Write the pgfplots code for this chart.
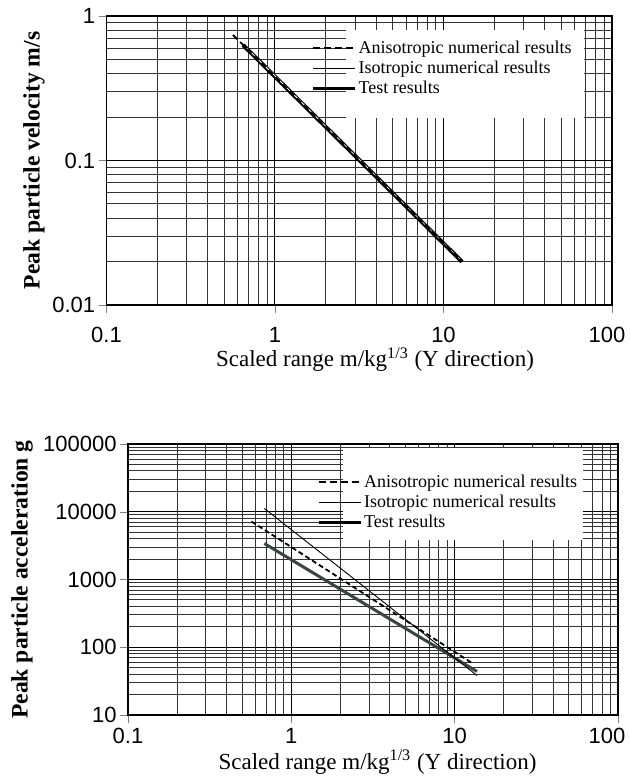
\documentclass[border=0pt]{standalone}
\usepackage{fontspec}
\setmainfont{Liberation Serif}
\newfontfamily\arial{Liberation Sans}
\usepackage{pgfplots}
\pgfplotsset{compat=1.18}
\definecolor{testgray}{RGB}{58,68,68}
\newcommand\tl[1]{\mbox{\arial\fontsize{11}{13}\selectfont #1}}
\pgfplotsset{
  legend image code/.code={\draw[#1] (0pt,0pt) -- (21pt,0pt);},
  every axis/.append style={
    scale only axis,
    xmin=0.1, xmax=100,
    xtick={0.1,1,10,100},
    minor xtick={0.2,0.3,0.4,0.5,0.6,0.7,0.8,0.9,2,3,4,5,6,7,8,9,20,30,40,50,60,70,80,90},
    grid=both,
    major grid style={black, line width=0.5pt},
    minor grid style={black!80, line width=0.5pt},
    tick align=outside, tick pos=left,
    major tick length=4pt, minor tick length=0pt,
    axis line style={line width=0.6pt},
    ticklabel style={inner sep=1pt},
    yticklabel style={xshift=-0.5pt},
    xlabel={Scaled range m/kg\textsuperscript{1/3} (Y direction)},
    label style={font=\fontsize{11.5}{13}\selectfont, inner sep=0.5pt},
    ylabel style={font=\bfseries\fontsize{11.8}{14}\selectfont, anchor=center},
    legend cell align=left,
    legend style={draw=none, fill=none, inner sep=0pt, font=\fontsize{9}{10}\selectfont,
      nodes={inner sep=1pt, text height=6.5pt, text depth=1.5pt}},
  },
}
\begin{document}
\begin{tikzpicture}
\useasboundingbox (0,0) rectangle (315pt,389pt);
% Top: peak particle velocity
\begin{loglogaxis}[
  at={(53.25pt,236.5pt)}, anchor=south west,
  width=252.75pt, height=144.5pt,
  ymin=0.01, ymax=1,
  xticklabels={\tl{0.1},\tl{1},\tl{10},\tl{100\hspace{5pt}}},
  ytick={0.01,0.1,1}, yticklabels={\tl{0.01},\tl{0.1},\tl{1}},
  minor ytick={0.02,0.03,0.04,0.05,0.06,0.07,0.08,0.09,0.2,0.3,0.4,0.5,0.6,0.7,0.8,0.9},
  xticklabel style={yshift=-6pt},
  ylabel={Peak particle velocity m/s},
  ylabel style={at={(axis description cs:-0.1434,0.5)}},
  xlabel style={at={(axis description cs:0.5312,-0.2145)}, anchor=base},
  legend style={at={(rel axis cs:0.405,0.924)}, anchor=north west},
]
\addplot[black, line width=2pt, forget plot] coordinates {(0.646,0.63) (12.9,0.0199)};
\addplot[white, line width=0.45pt, forget plot] coordinates {(0.68,0.60) (12.5,0.0207)};
\addplot[black, line width=0.45pt, forget plot] coordinates {(0.68,0.582) (12.5,0.0205)};
\addplot[black, line width=0.9pt, dash pattern=on 3pt off 2pt, forget plot] coordinates {(0.563,0.739) (12.2,0.0213)};
\fill[white] (rel axis cs:0.474,0.647) rectangle (rel axis cs:0.945,0.952);
\addlegendimage{black, line width=0.9pt, dash pattern=on 3.5pt off 2pt}
\addlegendentry{Anisotropic numerical results}
\addlegendimage{black, line width=0.45pt}
\addlegendentry{Isotropic numerical results}
\addlegendimage{black, line width=1.5pt}
\addlegendentry{Test results}
\end{loglogaxis}
% Bottom: peak particle acceleration
\begin{loglogaxis}[
  at={(64pt,31.5pt)}, anchor=south west,
  width=245pt, height=135.5pt,
  ymin=10, ymax=100000,
  xticklabels={\tl{0.1},\tl{1},\tl{10},\tl{100\hspace{11pt}}},
  ytick={10,100,1000,10000,100000}, yticklabels={\tl{10},\tl{100},\tl{1000},\tl{10000},\tl{100000}},
  minor ytick={20,30,40,50,60,70,80,90,200,300,400,500,600,700,800,900,2000,3000,4000,5000,6000,7000,8000,9000,20000,30000,40000,50000,60000,70000,80000,90000},
  xticklabel style={yshift=-1.5pt},
  ylabel={Peak particle acceleration g},
  ylabel style={at={(axis description cs:-0.2163,0.5)}},
  xlabel style={at={(axis description cs:0.5092,-0.1993)}, anchor=base},
  legend style={at={(rel axis cs:0.385,0.897)}, anchor=north west},
]
\addplot[testgray, line width=1.5pt, forget plot] coordinates {(0.684,3400) (13.7,43.9)};
\addplot[black, line width=0.45pt, forget plot] coordinates {(0.684,11170) (13.7,38.3)};
\addplot[black, line width=0.9pt, dash pattern=on 2.5pt off 1.5pt, forget plot] coordinates {(0.57,7180) (12.7,59)};
\fill[white] (rel axis cs:0.439,0.646) rectangle (rel axis cs:0.929,0.985);
\addlegendimage{black, line width=0.9pt, dash pattern=on 3.5pt off 2pt}
\addlegendentry{Anisotropic numerical results}
\addlegendimage{black, line width=0.45pt}
\addlegendentry{Isotropic numerical results}
\addlegendimage{black, line width=1.5pt}
\addlegendentry{Test results}
\end{loglogaxis}
\end{tikzpicture}
\end{document}
